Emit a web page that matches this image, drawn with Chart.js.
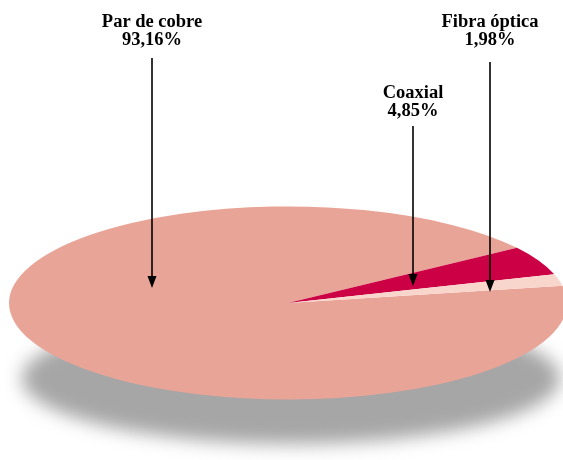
<!DOCTYPE html>
<html>
<head>
<meta charset="utf-8">
<script src="https://cdn.jsdelivr.net/npm/chart.js@4/dist/chart.umd.min.js"></script>
<style>
  html, body { margin: 0; padding: 0; background: #fff; overflow: hidden; width: 563px; height: 460px; }
  canvas { display: block; }
</style>
</head>
<body>
<canvas id="c" width="580" height="600"></canvas>
<script>
// Cable types and their share of lines
const categories = ['Par de cobre', 'Coaxial', 'Fibra óptica'];
const shares = [93.16, 4.85, 1.98];
const sliceColors = ['#E9A498', '#CC0044', '#F8D6CC'];

const fmtPct = v => v.toFixed(2).replace('.', ',') + '%';

// Vertical squash that turns the pie into a tilted disc
const TILT = 0.346;

// Callout placement: label centre x, label top baseline, arrow start and tip
const callouts = [
  { x: 152, base: 26.5, from: 58,  to: 288 },
  { x: 413, base: 97.5, from: 126, to: 286 },
  { x: 490, base: 27,   from: 62,  to: 292 }
];

const tiltPlugin = {
  id: 'tilt',
  beforeDatasetsDraw(chart) {
    const ctx = chart.ctx;
    const arc = chart.getDatasetMeta(0).data[0];
    const { x, y, outerRadius: r } = arc.getProps(['x', 'y', 'outerRadius'], true);
    // soft drop shadow under the disc
    ctx.save();
    ctx.filter = 'blur(9px)';
    ctx.fillStyle = '#a6a6a6';
    ctx.beginPath();
    ctx.ellipse(x + 3, y + r * 0.27, r * 0.965, r * 0.235, 0, 0, Math.PI * 2);
    ctx.fill();
    ctx.restore();
    // squash the pie vertically around its centre
    ctx.save();
    ctx.translate(x, y);
    ctx.scale(1, TILT);
    ctx.translate(-x, -y);
  },
  afterDatasetsDraw(chart) {
    chart.ctx.restore();
  },
  afterDraw(chart) {
    const ctx = chart.ctx;
    ctx.save();
    ctx.fillStyle = '#000';
    ctx.strokeStyle = '#000';
    ctx.textAlign = 'center';
    ctx.textBaseline = 'alphabetic';
    ctx.font = 'bold 18.5px "Liberation Serif", serif';
    categories.forEach((name, i) => {
      const c = callouts[i];
      ctx.fillText(name, c.x, c.base);
      ctx.fillText(fmtPct(shares[i]), c.x, c.base + 18);
      // arrow shaft
      ctx.lineWidth = 1.6;
      ctx.beginPath();
      ctx.moveTo(c.x, c.from);
      ctx.lineTo(c.x, c.to - 10);
      ctx.stroke();
      // arrow head
      ctx.beginPath();
      ctx.moveTo(c.x - 4.5, c.to - 12);
      ctx.lineTo(c.x + 4.5, c.to - 12);
      ctx.lineTo(c.x, c.to);
      ctx.closePath();
      ctx.fill();
    });
    ctx.restore();
  }
};

new Chart(document.getElementById('c'), {
  type: 'pie',
  data: {
    labels: categories,
    datasets: [{
      data: shares,
      backgroundColor: sliceColors,
      borderWidth: 0,
      clip: false
    }]
  },
  options: {
    responsive: false,
    animation: false,
    events: [],
    rotation: 79.75,
    layout: { padding: { left: 9, right: 13, top: 24, bottom: 18 } },
    plugins: {
      legend: { display: false },
      tooltip: { enabled: false }
    }
  },
  plugins: [tiltPlugin]
});
</script>
</body>
</html>
